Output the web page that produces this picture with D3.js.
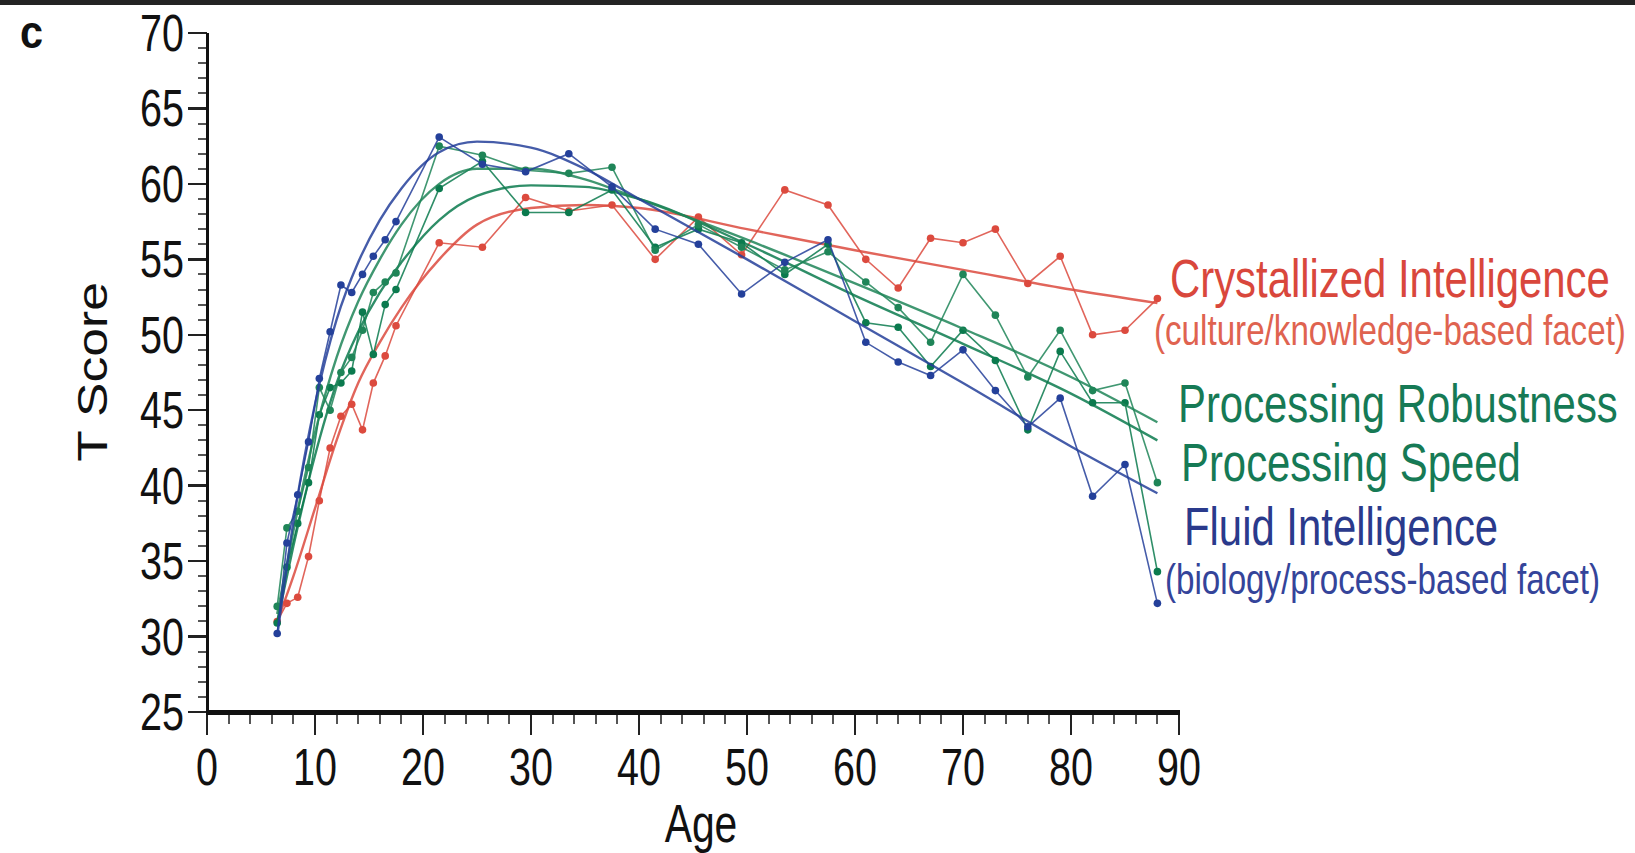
<html>
  <head>
    <script src="https://cdn.jsdelivr.net/npm/d3@7"></script>
    <style type="text/css">
    body { margin: 0; background: #fff; }
    text { font-family: "Liberation Sans", Arial, sans-serif; }
    line.axis, path.axis { stroke: #111; fill: none; shape-rendering: crispEdges; }
    line.tick { stroke: #222; shape-rendering: crispEdges; }
    line.minor { stroke: #555; shape-rendering: crispEdges; }
    text.tick { fill: #111; font-size: 52px; }
    text.title { fill: #111; }
    path.raw { fill: none; stroke-width: 1.6; stroke-opacity: 0.85; }
    path.fit { fill: none; stroke-width: 2.4; stroke-opacity: 0.85; }
    </style>
  </head>
  <body>
    <script type="text/javascript">

      var width = 1635;
      var height = 853;

      // age groups shared by every raw series
      var ages = [6.5, 7.4, 8.4, 9.4, 10.4, 11.4, 12.4, 13.4, 14.4, 15.4, 16.5, 17.5,
                  21.5, 25.5, 29.5, 33.5, 37.5, 41.5, 45.5, 49.5, 53.5, 57.5,
                  61, 64, 67, 70, 73, 76, 79, 82, 85, 88];

      var crystallized = [31.0, 32.2, 32.6, 35.3, 39.0, 42.5, 44.6, 45.4, 43.7, 46.8, 48.6, 50.6,
                          56.1, 55.8, 59.1, 58.2, 58.6, 55.0, 57.8, 55.3, 59.6, 58.6,
                          55.0, 53.1, 56.4, 56.1, 57.0, 53.4, 55.2, 50.0, 50.3, 52.4];
      var robustness = [32.0, 37.2, 38.3, 41.2, 46.5, 45.0, 47.5, 48.5, 50.3, 52.8, 53.5, 54.1,
                        62.5, 61.9, 60.9, 60.7, 61.1, 55.6, 57.3, 55.8, 54.3, 55.5,
                        53.5, 51.8, 49.5, 54.0, 51.3, 47.2, 50.3, 46.3, 46.8, 40.2];
      var speed = [30.9, 34.6, 37.5, 40.2, 44.7, 46.5, 46.8, 47.6, 51.5, 48.7, 52.0, 53.0,
                   59.7, 61.5, 58.1, 58.1, 59.6, 55.8, 57.0, 56.1, 54.0, 56.0,
                   50.8, 50.5, 47.9, 50.3, 48.3, 43.7, 48.9, 45.5, 45.5, 34.3];
      var fluid = [30.2, 36.2, 39.4, 42.9, 47.1, 50.2, 53.3, 52.8, 54.0, 55.2, 56.3, 57.5,
                   63.1, 61.3, 60.8, 62.0, 59.8, 57.0, 56.0, 52.7, 54.8, 56.3,
                   49.5, 48.2, 47.3, 49.0, 46.3, 43.9, 45.8, 39.3, 41.4, 32.2];

      // smoothed curves, read at these ages
      var fitAges = [6.5, 8, 10, 12, 14, 16, 18, 21.5, 25, 30, 35, 40, 50, 60, 70, 80, 88];
      var crystallizedFit = [31.0, 34.0, 38.5, 43.0, 46.8, 49.5, 51.8, 55.0, 57.3, 58.4, 58.6, 58.4, 57.0, 55.6, 54.3, 53.0, 52.1];
      var robustnessFit = [31.5, 37.0, 43.5, 48.5, 52.2, 55.0, 57.3, 60.0, 61.0, 61.0, 60.3, 59.0, 56.3, 53.4, 50.4, 47.2, 44.2];
      var speedFit = [31.0, 36.0, 42.0, 46.8, 50.2, 52.8, 54.8, 57.6, 59.2, 59.9, 59.8, 59.0, 56.0, 52.6, 49.4, 46.1, 43.0];
      var fluidFit = [30.0, 37.6, 45.4, 51.0, 54.8, 57.6, 59.7, 62.1, 62.8, 62.4, 61.0, 59.0, 55.0, 50.9, 46.8, 42.6, 39.5];

      var xTicks = [0, 10, 20, 30, 40, 50, 60, 70, 80, 90];
      var yTicks = [25, 30, 35, 40, 45, 50, 55, 60, 65, 70];

      var series = [
        {name: "crystallized", raw: crystallized, fit: crystallizedFit, color: "#dc4a3e"},
        {name: "speed", raw: speed, fit: speedFit, color: "#0b7a4e"},
        {name: "robustness", raw: robustness, fit: robustnessFit, color: "#1f8558"},
        {name: "fluid", raw: fluid, fit: fluidFit, color: "#24409a"}
      ];

      var labels = [
        {text: "Crystallized Intelligence", x: 1170, y: 297, size: 53, sx: 0.79, color: "#d9473c"},
        {text: "(culture/knowledge-based facet)", x: 1154, y: 345, size: 42, sx: 0.79, color: "#df6350"},
        {text: "Processing Robustness", x: 1178, y: 422, size: 53, sx: 0.79, color: "#167a55"},
        {text: "Processing Speed", x: 1181, y: 481, size: 53, sx: 0.79, color: "#167a55"},
        {text: "Fluid Intelligence", x: 1184, y: 545, size: 53, sx: 0.79, color: "#2a3a8c"},
        {text: "(biology/process-based facet)", x: 1165, y: 594, size: 42, sx: 0.79, color: "#34449a"}
      ];

      var x = d3.scaleLinear().domain([0, 90]).range([207, 1179]);
      var y = d3.scaleLinear().domain([25, 70]).range([712, 33]);

      var svg = d3.select("body").append("svg")
        .attr("width", width)
        .attr("height", height);

      /* dark strip along the top */
      svg.append("rect")
        .attr("x", 0).attr("y", 0)
        .attr("width", width).attr("height", 5)
        .attr("fill", "#232323");

      /* minor ticks */
      svg.selectAll("line.minor-y")
        .data(d3.range(25, 70.5, 1))
        .enter()
        .append("line")
        .attr("class", "minor")
        .attr("x1", x(0) - 9).attr("x2", x(0))
        .attr("y1", function(d) { return y(d); })
        .attr("y2", function(d) { return y(d); })
        .attr("stroke-width", 2);

      svg.selectAll("line.minor-x")
        .data(d3.range(0, 90.5, 2))
        .enter()
        .append("line")
        .attr("class", "minor")
        .attr("x1", function(d) { return x(d); })
        .attr("x2", function(d) { return x(d); })
        .attr("y1", y(25)).attr("y2", y(25) + 12)
        .attr("stroke-width", 2);

      /* major ticks */
      svg.selectAll("line.major-y")
        .data(yTicks)
        .enter()
        .append("line")
        .attr("class", "tick")
        .attr("x1", x(0) - 19).attr("x2", x(0))
        .attr("y1", function(d) { return y(d); })
        .attr("y2", function(d) { return y(d); })
        .attr("stroke-width", 2.5);

      svg.selectAll("line.major-x")
        .data(xTicks)
        .enter()
        .append("line")
        .attr("class", "tick")
        .attr("x1", function(d) { return x(d); })
        .attr("x2", function(d) { return x(d); })
        .attr("y1", y(25)).attr("y2", y(25) + 23)
        .attr("stroke-width", 2.5);

      /* axis lines */
      svg.append("line")
        .attr("class", "axis")
        .attr("x1", x(0)).attr("y1", y(70))
        .attr("x2", x(0)).attr("y2", y(25) + 2)
        .attr("stroke-width", 3);

      svg.append("line")
        .attr("class", "axis")
        .attr("x1", x(0) - 1).attr("y1", y(25))
        .attr("x2", x(90) + 1).attr("y2", y(25))
        .attr("stroke-width", 5);

      /* tick labels, drawn narrow like the original */
      svg.selectAll("text.ytick")
        .data(yTicks)
        .enter()
        .append("text")
        .attr("class", "tick")
        .attr("text-anchor", "end")
        .attr("transform", function(d) { return "translate(" + (x(0) - 23) + "," + (y(d) + 18) + ") scale(0.76,1)"; })
        .text(function(d) { return d; });

      svg.selectAll("text.xtick")
        .data(xTicks)
        .enter()
        .append("text")
        .attr("class", "tick")
        .attr("text-anchor", "middle")
        .attr("transform", function(d) { return "translate(" + x(d) + "," + 785 + ") scale(0.76,1)"; })
        .text(function(d) { return d; });

      /* axis titles */
      svg.append("text")
        .attr("class", "title")
        .attr("text-anchor", "middle")
        .attr("font-size", 53)
        .attr("transform", "translate(701,842) scale(0.77,1)")
        .text("Age");

      svg.append("text")
        .attr("class", "title")
        .attr("text-anchor", "middle")
        .attr("font-size", 43)
        .attr("transform", "translate(107,372) rotate(-90) scale(1.2,1)")
        .text("T Score");

      svg.append("text")
        .attr("class", "title")
        .attr("font-size", 46)
        .attr("font-weight", "bold")
        .attr("transform", "translate(20,48) scale(0.9,1)")
        .text("c");

      /* curves */
      var rawLine = d3.line()
        .x(function(d, i) { return x(ages[i]); })
        .y(function(d) { return y(d); });

      var fitLine = d3.line()
        .curve(d3.curveMonotoneX)
        .x(function(d, i) { return x(fitAges[i]); })
        .y(function(d) { return y(d); });

      var groups = svg.selectAll("g.series")
        .data(series)
        .enter()
        .append("g")
        .attr("class", "series");

      groups.append("path")
        .attr("class", "fit")
        .attr("stroke", function(d) { return d.color; })
        .attr("d", function(d) { return fitLine(d.fit); });

      groups.append("path")
        .attr("class", "raw")
        .attr("stroke", function(d) { return d.color; })
        .attr("d", function(d) { return rawLine(d.raw); });

      groups.selectAll("circle")
        .data(function(d) { return d.raw.map(function(v, i) { return {v: v, i: i, color: d.color}; }); })
        .enter()
        .append("circle")
        .attr("cx", function(d) { return x(ages[d.i]); })
        .attr("cy", function(d) { return y(d.v); })
        .attr("r", 3.8)
        .attr("fill", function(d) { return d.color; });

      /* series labels */
      svg.selectAll("text.label")
        .data(labels)
        .enter()
        .append("text")
        .attr("class", "label")
        .attr("font-size", function(d) { return d.size; })
        .attr("fill", function(d) { return d.color; })
        .attr("transform", function(d) { return "translate(" + d.x + "," + d.y + ") scale(" + d.sx + ",1)"; })
        .text(function(d) { return d.text; });

    </script>
  </body>
</html>
